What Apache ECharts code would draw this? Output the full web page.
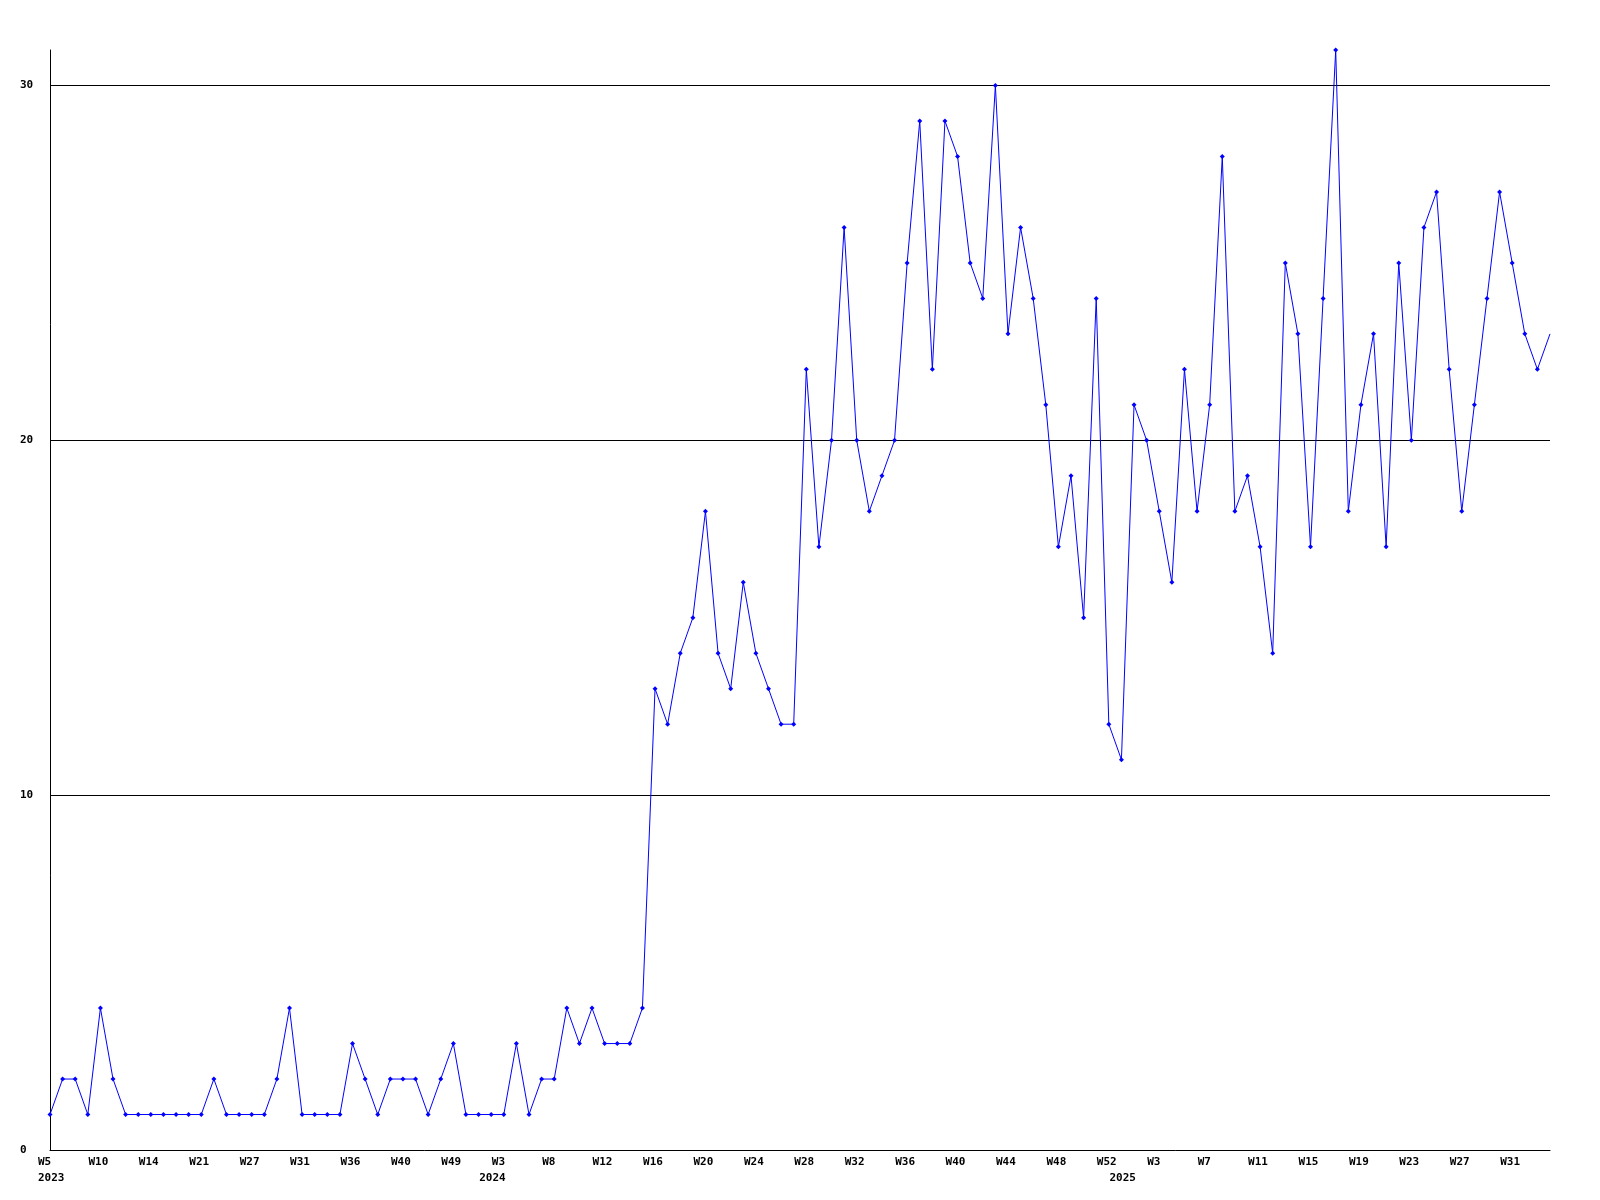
<!DOCTYPE html>
<html><head><meta charset="utf-8">
<script src="https://cdn.jsdelivr.net/npm/echarts@6/dist/echarts.min.js"></script>
<style>html,body{margin:0;padding:0;background:#fff}#c{width:1600px;height:1200px}</style>
</head><body><div id="c"></div>
<script>
const weeks = [
  'W5','W6','W8','W9','W10','W11','W12','W13','W14','W16','W18','W20','W21','W22','W24','W25',
  'W27','W28','W29','W30','W31','W32','W33','W35','W36','W37','W38','W39','W40','W42','W44','W46',
  'W49','W50','W51',
  'W1','W3','W4','W5','W7','W8','W9','W10','W11','W12','W13','W14','W15','W16','W17','W18','W19',
  'W20','W21','W22','W23','W24','W25','W26','W27','W28','W29','W30','W31','W32','W33','W34','W35',
  'W36','W37','W38','W39','W40','W41','W42','W43','W44','W45','W46','W47','W48','W49','W50','W51',
  'W52',
  'W0','W1','W2','W3','W4','W5','W6','W7','W8','W9','W10','W11','W12','W13','W14','W15','W16',
  'W17','W18','W19','W20','W21','W22','W23','W24','W25','W26','W27','W28','W29','W30','W31','W32',
  'W33','W34'
];
// index of the first point of each year
const yearMarks = {0: '2023', 35: '2024', 85: '2025'};
const values = [
  1,2,2,1,4,2,1,1,1,1,1,1,1,2,1,1,
  1,1,2,4,1,1,1,1,3,2,1,2,2,2,1,2,
  3,1,1,1,1,3,1,2,2,4,3,4,3,3,3,4,
  13,12,14,15,18,14,13,16,14,13,12,12,22,17,20,26,
  20,18,19,20,25,29,22,29,28,25,24,30,23,26,24,21,
  17,19,15,24,12,11,21,20,18,16,22,18,21,28,18,19,
  17,14,25,23,17,24,31,18,21,23,17,25,20,26,27,22,
  18,21,24,27,25,23,22,23
];
const yMin = 0, yMax = 31, yStep = 10;

const font = {fontFamily: 'DejaVu Sans Mono', fontSize: 11, fontWeight: 'bold', color: '#000'};
const richA = {a: Object.assign({width: 24, align: 'left', lineHeight: 13}, font)};
const chart = echarts.init(document.getElementById('c'), null, {renderer: 'canvas'});
chart.setOption({
  backgroundColor: '#fff',
  animation: false,
  grid: {left: 50, right: 50, top: 50, bottom: 50, containLabel: false},
  xAxis: [{
    type: 'category',
    data: weeks,
    boundaryGap: false,
    axisLine: {show: true, lineStyle: {color: '#000', width: 1}},
    axisTick: {show: false},
    splitLine: {show: false},
    axisLabel: {
      interval: 3,
      margin: 6,
      align: 'center',
      formatter: function (v) { return '{a|' + v + '}'; },
      rich: richA
    }
  }, {
    type: 'category',
    data: weeks,
    boundaryGap: false,
    position: 'bottom',
    axisLine: {show: false},
    axisTick: {show: false},
    splitLine: {show: false},
    axisLabel: {
      interval: 0,
      margin: 22,
      align: 'center',
      formatter: function (v, i) { return yearMarks[i] ? '{a|' + yearMarks[i] + '}' : ''; },
      rich: richA
    }
  }],
  yAxis: {
    type: 'value',
    min: yMin, max: yMax, interval: yStep,
    axisLine: {show: true, lineStyle: {color: '#000', width: 1}},
    axisTick: {show: false},
    splitLine: {show: true, showMinLine: false, showMaxLine: false, lineStyle: {color: '#000', width: 1}},
    axisLabel: Object.assign({
      align: 'left', margin: 30,
      formatter: function (v) { return v % yStep === 0 ? String(v) : ''; }
    }, font)
  },
  series: [{
    type: 'line',
    data: values,
    symbol: function (v, p) { return p.dataIndex === values.length - 1 ? 'none' : 'diamond'; },
    symbolSize: 5,
    showSymbol: true,
    lineStyle: {color: '#0000ff', width: 1},
    itemStyle: {color: '#0000ff'},
    clip: true
  }]
});
</script>
</body></html>
